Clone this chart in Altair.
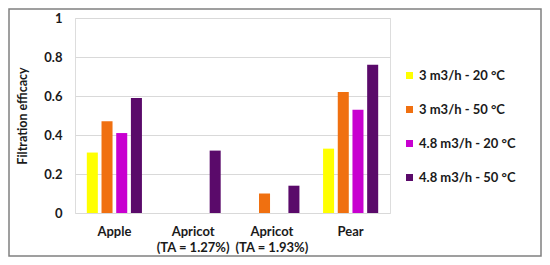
import altair as alt
import pandas as pd

categories = ["Apple", "Apricot (TA = 1.27%)", "Apricot (TA = 1.93%)", "Pear"]
series = ["3 m3/h - 20 °C", "3 m3/h - 50 °C", "4.8 m3/h - 20 °C", "4.8 m3/h - 50 °C"]
colors = ["#FFFF00", "#F07010", "#C800D0", "#5A0A6A"]

# values per series (None = no bar)
s1 = [0.31, None, None, 0.33]
s2 = [0.47, None, 0.10, 0.62]
s3 = [0.41, None, None, 0.53]
s4 = [0.59, 0.32, 0.14, 0.76]

rows = []
for name, vals in zip(series, [s1, s2, s3, s4]):
    for cat, v in zip(categories, vals):
        if v is not None:
            rows.append({"Fruit": cat, "Condition": name, "Efficacy": v})
df = pd.DataFrame(rows)

FONT = "Lato"
label_expr = ("indexof(datum.label, ' (') > 0 ? "
              "[substring(datum.label, 0, indexof(datum.label, ' (')), "
              "substring(datum.label, indexof(datum.label, ' (') + 1)] : datum.label")

bars = alt.Chart(df).mark_bar().encode(
    x=alt.X("Fruit:N", sort=categories,
            scale=alt.Scale(domain=categories, paddingInner=0.3, paddingOuter=0.15),
            axis=alt.Axis(title=None, labelAngle=0, domain=False, ticks=False,
                          labelPadding=12, labelFontSize=13, labelFontWeight="bold",
                          labelExpr=label_expr, labelLineHeight=16, labelColor="#1a1a1a",
                          labelFont=FONT)),
    xOffset=alt.XOffset("Condition:N", sort=series,
                        scale=alt.Scale(domain=series, paddingInner=0.25, paddingOuter=0)),
    y=alt.Y("Efficacy:Q",
            scale=alt.Scale(domain=[0, 1], nice=False),
            axis=alt.Axis(title="Filtration efficacy", values=[0, 0.2, 0.4, 0.6, 0.8, 1],
                          format="~g",
                          domain=False, ticks=False, labelPadding=13,
                          labelFontSize=13, labelFontWeight="bold", labelColor="#1a1a1a",
                          labelFont=FONT, titleFont=FONT, titleFontSize=12.5,
                          titleFontWeight="bold", titleColor="#1a1a1a", titlePadding=14,
                          gridColor="#D9D9D9", gridWidth=1)),
    color=alt.Color("Condition:N", sort=series,
                    scale=alt.Scale(domain=series, range=colors),
                    legend=alt.Legend(title=None, orient="none", legendX=328, legendY=51,
                                      symbolType="square", symbolSize=49, symbolStrokeWidth=0,
                                      labelFont=FONT, labelFontSize=13, labelFontWeight="bold",
                                      labelColor="#1a1a1a", rowPadding=20, labelOffset=3,
                                      padding=0)),
)

frame = alt.Chart(pd.DataFrame({"f": [0]})).mark_rect(
    fill=None, stroke="#808080", strokeWidth=1.5
).encode(
    x=alt.value(-66), x2=alt.value(315 + 151),
    y=alt.value(-9), y2=alt.value(195 + 43),
)

chart = alt.layer(bars, frame).properties(
    width=315, height=195,
    autosize=alt.AutoSizeParams(type="none"),
    padding={"left": 67, "top": 10, "right": 152, "bottom": 44},
).configure_view(stroke=None).configure(background="white")

chart.save("out.html", embed_options={"renderer": "svg", "actions": False})
